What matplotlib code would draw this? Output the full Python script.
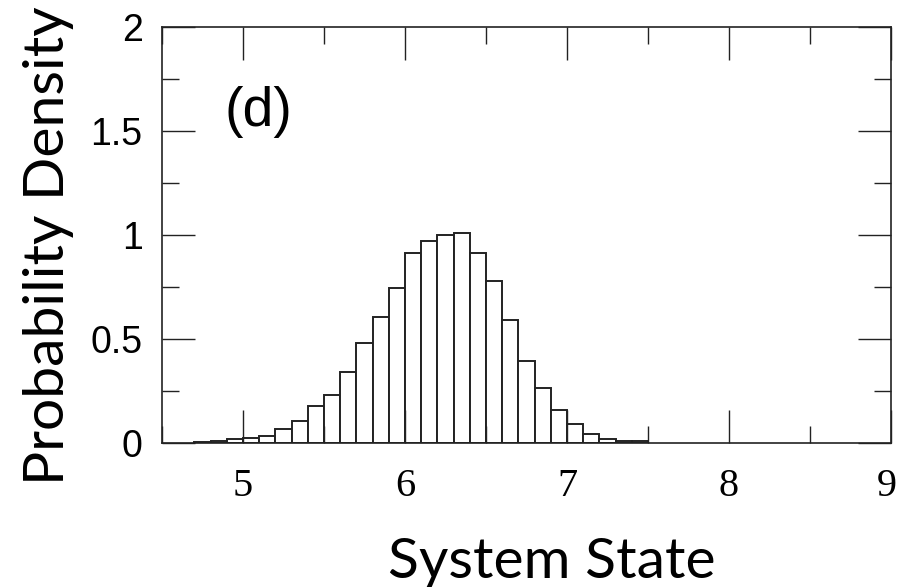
import matplotlib.pyplot as plt
from matplotlib.ticker import MultipleLocator
import matplotlib.transforms as mtransforms
import numpy as np

# histogram: left bin edges (width 0.1) and densities
bin_left = [4.7, 4.8, 4.9, 5.0, 5.1, 5.2, 5.3, 5.4, 5.5, 5.6,
            5.7, 5.8, 5.9, 6.0, 6.1, 6.2, 6.3, 6.4, 6.5, 6.6,
            6.7, 6.8, 6.9, 7.0, 7.1, 7.2, 7.3, 7.4]
density = [0.006, 0.01, 0.02, 0.026, 0.034, 0.069, 0.104, 0.18, 0.23, 0.343,
           0.479, 0.607, 0.744, 0.915, 0.973, 1.0, 1.008, 0.915, 0.78, 0.59,
           0.393, 0.264, 0.157, 0.093, 0.043, 0.019, 0.011, 0.011]
bin_width = 0.1

x_ticks = [5, 6, 7, 8, 9]
y_ticks = [0, 0.5, 1, 1.5, 2]
y_tick_labels = ['0', '0.5', '1', '1.5', '2']

fig = plt.figure(figsize=(9, 5.87), dpi=100)
ax = fig.add_axes([162 / 900, 1 - 443 / 587, (891 - 162) / 900, (443 - 27) / 587])

ax.bar(bin_left, density, width=bin_width, align='edge',
       facecolor='white', edgecolor='#222222', linewidth=1.4)

ax.set_xlim(4.5, 9)
ax.set_ylim(0, 2)
ax.set_xticks(x_ticks)
ax.set_xticklabels([str(t) for t in x_ticks], family='Liberation Serif', fontsize=29)
ax.set_yticks(y_ticks)
ax.set_yticklabels(y_tick_labels, family='Liberation Sans', fontsize=27)
ax.xaxis.set_minor_locator(MultipleLocator(0.5))
ax.yaxis.set_minor_locator(MultipleLocator(0.25))
ax.tick_params(which='both', direction='in', top=True, right=True,
               width=1.0, color='#222222')
ax.tick_params(which='major', length=24)
ax.tick_params(which='minor', length=12)
ax.tick_params(axis='y', which='major', pad=14)
ax.tick_params(axis='x', which='major', pad=18)
for s in ax.spines.values():
    s.set_linewidth(1.2)
    s.set_color('#222222')

# the last x label sits right at the figure edge; nudge it inside
last = ax.get_xticklabels()[-1]
last.set_transform(last.get_transform() +
                   mtransforms.ScaledTranslation(-4 / 100, 0, fig.dpi_scale_trans))

ax.text(224 / 900, 1 - 86 / 587, '(d)', transform=fig.transFigure,
        family='Liberation Sans', fontsize=40, ha='left', va='top')

fig.text(552 / 900, 1 - 578 / 587, 'System State', family='Lato',
         fontsize=41, ha='center', va='baseline')
fig.text(49 / 900, 1 - 246 / 587, 'Probability Density', family='Lato',
         fontsize=41, ha='center', va='center', rotation=90)

fig.savefig('out.png', dpi=100)
